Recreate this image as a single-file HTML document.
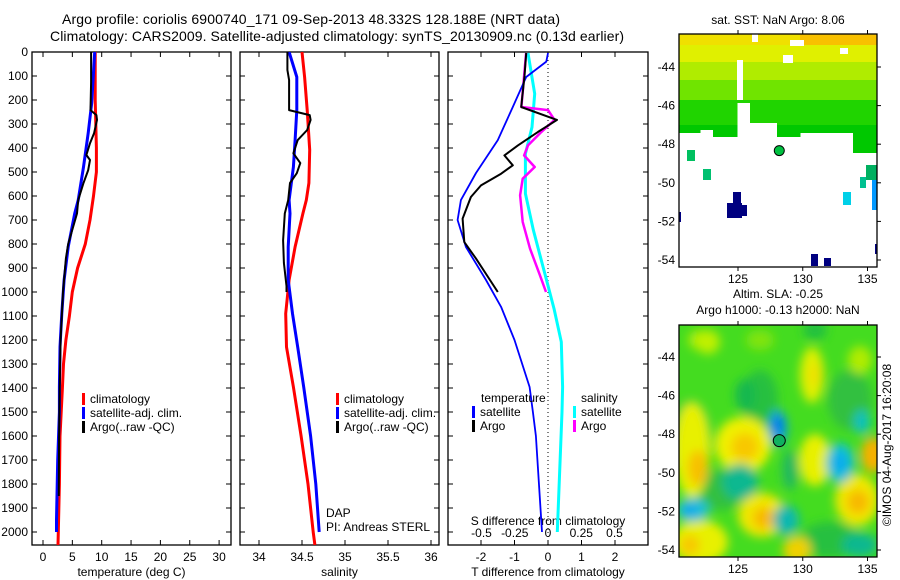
<!DOCTYPE html>
<html><head><meta charset="utf-8"><style>
html,body{margin:0;padding:0;background:#fff;}
svg{display:block;font-family:"Liberation Sans",sans-serif;}
</style></head><body>
<svg id="chart" width="900" height="580" viewBox="0 0 900 580" xmlns="http://www.w3.org/2000/svg">
<defs>
<filter id="blur" x="-50%" y="-50%" width="200%" height="200%"><feGaussianBlur stdDeviation="5"/></filter>
<clipPath id="clipMap2"><rect x="679" y="325" width="198" height="232"/></clipPath>
<clipPath id="clipP1"><rect x="32" y="52" width="199" height="493"/></clipPath>
<clipPath id="clipP2"><rect x="240" y="52" width="199" height="493"/></clipPath>
<clipPath id="clipP3"><rect x="448" y="52" width="200" height="493"/></clipPath>
</defs>
<text x="311" y="24" font-size="14" text-anchor="middle" textLength="498">Argo profile: coriolis 6900740_171 09-Sep-2013 48.332S 128.188E (NRT data)</text>
<text x="337" y="41" font-size="14" text-anchor="middle" textLength="574">Climatology: CARS2009. Satellite-adjusted climatology: synTS_20130909.nc (0.13d earlier)</text>
<g id="g"></g>
</svg>
<script>
// ---------- data ----------
var depthTicks = [0,100,200,300,400,500,600,700,800,900,1000,1100,1200,1300,1400,1500,1600,1700,1800,1900,2000];
var tempTicks = [0,5,10,15,20,25,30];
var salTicks = [34,34.5,35,35.5,36];
var salTickLabels = ["34","34.5","35","35.5","36"];
var tdiffTicks = [-2,-1,0,1,2];
var sdiffTicks = [-0.5,-0.25,0,0.25,0.5];
var sdiffTickLabels = ["-0.5","-0.25","0","0.25","0.5"];

var tClimDepth = [0,100,200,300,400,500,600,700,800,900,1000,1100,1200,1300,1400,1600,1800,2000,2054];
var tClimVal   = [8.9,8.9,8.9,9.0,9.1,9.1,8.6,8.0,7.2,5.9,5.0,4.5,3.9,3.5,3.3,2.9,2.8,2.6,2.55];
var tSatDepth = [0,213,338,479,617,673,812,950,1090,1229,1396,1500,1700,1950,2000];
var tSatVal   = [8.8,8.3,7.7,6.9,6.0,5.4,4.3,3.6,3.2,2.9,2.8,2.8,2.5,2.3,2.3];
var tArgoDepth = [0,125,242,263,283,338,380,429,450,492,546,617,673,800,860,1000,1200,1400,1600,1850];
var tArgoVal   = [8.2,8.2,8.1,9.1,9.2,8.7,8.0,7.4,8.0,7.7,6.9,6.0,5.8,4.3,3.9,3.4,3.0,2.85,2.75,2.7];

var sClimDepth = [0,104,242,408,546,617,673,812,950,1090,1229,1396,1600,1800,2000,2054];
var sClimVal   = [34.5,34.53,34.56,34.59,34.58,34.55,34.51,34.42,34.35,34.31,34.32,34.4,34.49,34.57,34.63,34.65];
var sSatDepth = [0,104,242,367,479,617,673,812,950,1090,1229,1396,1600,1800,2000];
var sSatVal   = [34.35,34.44,34.44,34.42,34.4,34.35,34.36,34.34,34.34,34.39,34.45,34.52,34.6,34.66,34.7];
var sArgoDepth = [0,75,117,200,242,263,283,325,367,422,463,505,546,617,673,785,879,975,1000];
var sArgoVal   = [34.33,34.33,34.35,34.35,34.35,34.59,34.6,34.56,34.45,34.4,34.48,34.44,34.36,34.34,34.3,34.28,34.29,34.32,34.32];

var dtSatDepth = [4,40,104,229,367,504,617,700,812,950,1062,1200,1396,1500,1600,2000];
var dtSatVal   = [0.0,-0.05,-0.65,-1.05,-1.5,-2.15,-2.6,-2.7,-2.45,-1.85,-1.4,-1.0,-0.55,-0.45,-0.36,-0.18];
var dtArgoDepth = [4,100,229,283,333,389,431,472,507,556,604,694,792,861,1000];
var dtArgoVal   = [-0.65,-0.7,-0.8,0.27,-0.3,-0.9,-1.3,-1.05,-1.4,-2.0,-2.3,-2.55,-2.5,-2.15,-1.5];
var dsSatDepth = [4,174,313,424,590,743,931,1069,1208,1396,1500,2000];
var dsSatVal   = [-0.15,-0.1,-0.12,-0.17,-0.17,-0.11,-0.02,0.045,0.1,0.11,0.105,0.07];
var dsArgoDepth = [4,229,242,283,333,389,431,479,528,597,708,819,931,1000];
var dsArgoVal   = [-0.165,-0.2,0.0,0.05,-0.05,-0.15,-0.18,-0.1,-0.19,-0.21,-0.19,-0.135,-0.06,-0.015];

var lonTicks = [125,130,135];
var latTicks = [-44,-46,-48,-50,-52,-54];
var argoLon = 128.188, argoLat = -48.332;

// ---------- scales ----------
var NS="http://www.w3.org/2000/svg";
var G=document.getElementById('g');
function el(tag,attrs,parent){var e=document.createElementNS(NS,tag);for(var k in attrs)e.setAttribute(k,attrs[k]);(parent||G).appendChild(e);return e;}
function yD(d){return 52+d*0.24;}
function xT(t){return 43+t*5.87;}
function xS(s){return 259+(s-34)*86;}
function xDT(t){return 548+t*33.5;}
function xDS(s){return 548+s*133;}
function lonX(l){return 738+(l-125)*12.95;}
function latY1(l){return 67+(-44-l)*19.3;}
function latY2(l){return 357+(-44-l)*19.3;}

function txt(x,y,s,size,anchor,name){var t=el('text',{x:x,y:y,'font-size':size,'text-anchor':anchor||'start'});t.textContent=s;


return t;}

function stepLine(depths,vals,xf,color,w,clip,name){
  var d='';
  for(var i=0;i<depths.length;i++){d+=(i?'L':'M')+xf(vals[i]).toFixed(1)+','+yD(depths[i]).toFixed(1);}
  var p=el('path',{d:d,fill:'none',stroke:color,'stroke-width':w,'stroke-linejoin':'round','clip-path':'url(#'+clip+')'});
  
  
}

function panel(x0,x1,name,xticks,xf,xlabels,xtitle,showDepthLabels){
  var r=el('rect',{x:x0,y:52,width:x1-x0,height:493,fill:'none',stroke:'#000','stroke-width':1.3});
  
  
  depthTicks.forEach(function(d){var y=yD(d);
    el('line',{x1:x0,y1:y,x2:x0+5,y2:y,stroke:'#000'});el('line',{x1:x1,y1:y,x2:x1-5,y2:y,stroke:'#000'});
    if(showDepthLabels){txt(x0-4,y+4,String(d),12,'end','depth-tick-label');}
  });
  xticks.forEach(function(v,i){var x=xf(v);
    el('line',{x1:x,y1:52,x2:x,y2:57,stroke:'#000'});el('line',{x1:x,y1:545,x2:x,y2:540,stroke:'#000'});
    if(xlabels)txt(x,561,xlabels[i],12,'middle',name+'-x-tick-label');
  });
  if(xtitle)txt((x0+x1)/2,576,xtitle,12,'middle',name+'-x-axis-title');
}

panel(32,231,'temperature-panel',tempTicks,xT,tempTicks.map(String),'temperature (deg C)',true);
stepLine(tClimDepth,tClimVal,xT,'#f00',3,'clipP1','temp-climatology-line');
stepLine(tSatDepth,tSatVal,xT,'#00f',3,'clipP1','temp-satellite-line');
stepLine(tArgoDepth,tArgoVal,xT,'#000',2,'clipP1','temp-argo-line');
panel(240,439,'salinity-panel',salTicks,xS,salTickLabels,'salinity',false);
stepLine(sClimDepth,sClimVal,xS,'#f00',3,'clipP2','sal-climatology-line');
stepLine(sSatDepth,sSatVal,xS,'#00f',3,'clipP2','sal-satellite-line');
stepLine(sArgoDepth,sArgoVal,xS,'#000',2,'clipP2','sal-argo-line');
panel(448,648,'difference-panel',tdiffTicks,xDT,tdiffTicks.map(String),'T difference from climatology',false);
el('line',{x1:548,y1:52,x2:548,y2:545,stroke:'#000','stroke-dasharray':'1,3'});
sdiffTicks.forEach(function(v,i){txt(xDS(v),537,sdiffTickLabels[i],12,'middle','s-diff-tick-label');});
txt(548,525,'S difference from climatology',12,'middle','s-diff-axis-title');
stepLine(dsSatDepth,dsSatVal,xDS,'#0ff',3,'clipP3','sdiff-satellite-line');
stepLine(dsArgoDepth,dsArgoVal,xDS,'#f0f',2.5,'clipP3','sdiff-argo-line');
stepLine(dtSatDepth,dtSatVal,xDT,'#00f',1.8,'clipP3','tdiff-satellite-line');
stepLine(dtArgoDepth,dtArgoVal,xDT,'#000',2,'clipP3','tdiff-argo-line');

function legItem(x,y,color,label){el('rect',{x:x,y:y-10,width:3,height:12,fill:color});txt(x+8,y,label,12,'start','legend-entry');}
legItem(82,403,'#f00','climatology');legItem(82,417,'#00f','satellite-adj. clim.');legItem(82,431,'#000','Argo(..raw -QC)');
legItem(336,403,'#f00','climatology');legItem(336,417,'#00f','satellite-adj. clim.');legItem(336,431,'#000','Argo(..raw -QC)');
txt(481,402,'temperature',12,'start','legend-title-temperature');
legItem(472,416,'#00f','satellite');legItem(472,430,'#000','Argo');
txt(581,402,'salinity',12,'start','legend-title-salinity');
legItem(573,416,'#0ff','satellite');legItem(573,430,'#f0f','Argo');
txt(326,517,'DAP',12,'start','dap-label');
txt(326,531,'PI: Andreas STERL',12,'start','pi-label');

// ---------- map 1: SST ----------
var m1=el('g',{});


var edgeX=[679,700,713,737,750,777,800,833,853,877];
var edgeY=[133,130,137,103,123,137,133,133,153,163];
for(var i=0;i<edgeX.length-1;i++){
  var x=edgeX[i],w=edgeX[i+1]-x,b=edgeY[i];
  var bands=[[34,45,x>790?'#f8c000':'#f0e000'],[45,62,'#e0f000'],[62,80,'#b0ec00'],[80,100,'#70e400'],[100,125,'#20d400'],[125,170,'#00c800']];
  bands.forEach(function(bd){var y0=bd[0],y1=Math.min(bd[1],b);if(y1>y0)el('rect',{x:x,y:y0,width:w+0.5,height:y1-y0,fill:bd[2]},m1);});
}
[[752,34,6,8],[790,40,14,6],[783,55,10,8],[840,48,8,6],[737,60,6,40]].forEach(function(r){el('rect',{x:r[0],y:r[1],width:r[2],height:r[3],fill:'#fff'},m1);});
[[687,150,8,11,'#00c060'],[703,169,8,11,'#00c070'],[733,192,8,14,'#000080'],[727,203,15,15,'#000080'],[740,205,7,11,'#000080'],
 [679,212,2,10,'#000080'],[811,254,7,12,'#000080'],[824,258,7,8,'#000080'],[875,244,2,10,'#000080'],[843,192,8,13,'#00d0e8'],
 [872,180,5,30,'#0098ff'],[860,177,6,11,'#00c090'],[866,165,11,15,'#00b060']].forEach(function(r){el('rect',{x:r[0],y:r[1],width:r[2],height:r[3],fill:r[4]},m1);});
el('circle',{cx:lonX(argoLon),cy:latY1(argoLat),r:5,fill:'#00c040',stroke:'#000'},m1);
function mapAxes(top,bottom,latf,name){
  var r=el('rect',{x:679,y:top,width:198,height:bottom-top,fill:'none',stroke:'#000','stroke-width':1.3});
  
  
  lonTicks.forEach(function(l){var x=lonX(l);el('line',{x1:x,y1:top,x2:x,y2:top-4,stroke:'#000'});el('line',{x1:x,y1:bottom,x2:x,y2:bottom+4,stroke:'#000'});
    txt(x,bottom+16,String(l),12,'middle',name+'-lon-label');});
  latTicks.forEach(function(l){var y=latf(l);el('line',{x1:877,y1:y,x2:881,y2:y,stroke:'#000'});txt(675,y+4,String(l),12,'end',name+'-lat-label');});
}
mapAxes(34,267,latY1,'sst-map');
txt(778,24,'sat. SST: NaN Argo: 8.06',12,'middle','sst-map-title');

// ---------- map 2: SLA ----------
var m2=el('g',{'clip-path':'url(#clipMap2)'});


el('rect',{x:679,y:325,width:198,height:232,fill:'#44dc20'},m2);
var bl=el('g',{filter:'url(#blur)'},m2);
[
 [690,440,22,40,'#30c840'],[760,400,18,30,'#28c040'],[850,400,22,30,'#30c040'],[830,540,30,18,'#28c040'],[720,490,25,20,'#30c040'],
 [700,340,12,10,'#a8ec10'],[760,340,14,10,'#80e410'],
 [692,450,18,48,'#e8f000'],[698,468,10,18,'#f8c000'],[743,445,28,28,'#f0f000'],[745,447,14,14,'#f8c800'],
 [812,375,12,28,'#e0f000'],[815,375,6,12,'#f0e000'],[815,460,16,26,'#e8f000'],[873,455,12,18,'#f8b000'],
 [857,500,22,26,'#f0e800'],[858,502,11,12,'#f8b800'],[762,515,24,22,'#f0e800'],[764,518,11,11,'#f8b800'],
 [700,542,28,22,'#e8f000'],[690,545,10,10,'#f8c800'],[797,550,14,14,'#f0d000'],[708,342,12,12,'#c0f000'],[860,360,12,14,'#b0ec00'],
 [778,428,9,18,'#10a0e0'],[778,425,5,8,'#0070f0'],[840,463,14,20,'#10c0d8'],[840,463,7,9,'#10a8f0'],[740,482,18,18,'#10b890'],
 [693,510,16,12,'#20c0d8'],[690,510,7,5,'#10a0f0'],[786,520,13,15,'#10b8b0'],
 [860,545,18,12,'#10b890'],[862,422,8,12,'#10c0c0'],[745,395,10,16,'#18b850'],[790,470,8,20,'#20b860'],[815,330,12,10,'#20c040']
].forEach(function(e){el('ellipse',{cx:e[0],cy:e[1],rx:e[2],ry:e[3],fill:e[4]},bl);});
el('circle',{cx:lonX(argoLon),cy:latY2(argoLat),r:6,fill:'#10b060',stroke:'#000'},m2);
mapAxes(325,557,latY2,'sla-map');
txt(778,298,'Altim. SLA: -0.25',12,'middle','sla-map-title-1');
txt(778,314,'Argo h1000: -0.13 h2000: NaN',12,'middle','sla-map-title-2');
var cr=txt(0,0,'\u00A9IMOS 04-Aug-2017 16:20:08',12,'middle','copyright-timestamp');
cr.setAttribute('transform','translate(891,445) rotate(-90)');
</script>
</body></html>
